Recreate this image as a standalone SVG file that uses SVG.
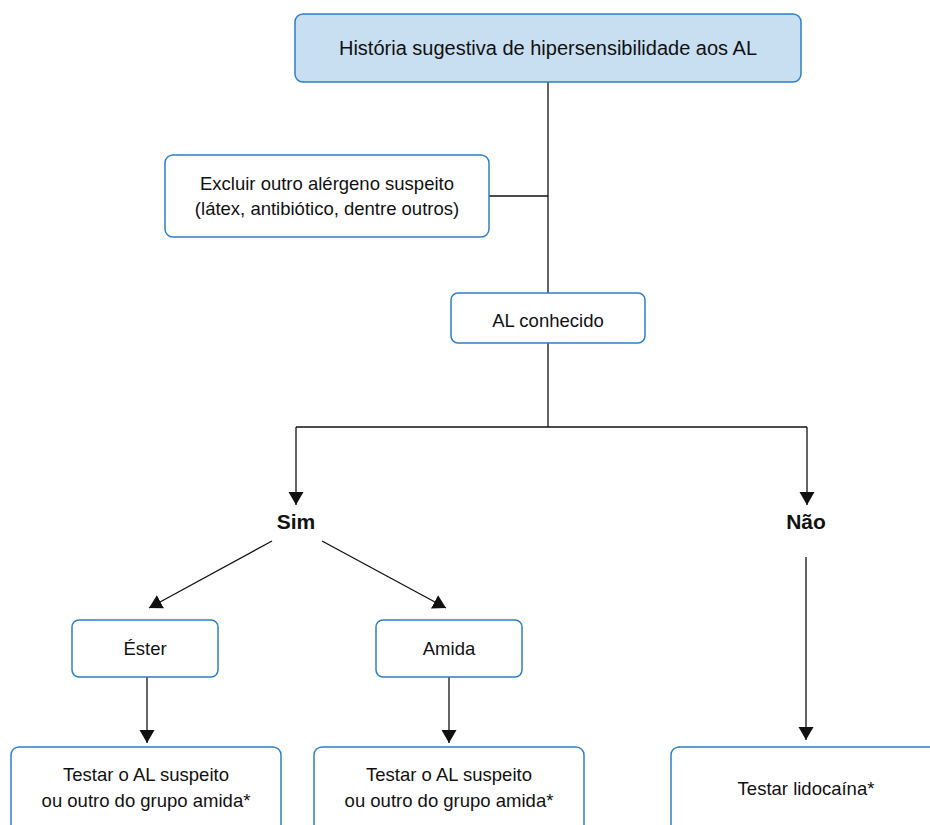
<svg xmlns="http://www.w3.org/2000/svg" width="930" height="825" viewBox="0 0 930 825">
<defs>
<style>
.box{fill:#ffffff;stroke:#2b80c8;stroke-width:1.5}
.top{fill:#c8dff2;stroke:#2b80c8;stroke-width:1.5}
.t{font-family:"Liberation Sans",Arial,sans-serif;font-size:18.5px;fill:#111;text-anchor:middle}
.h{font-size:20px}
.b{font-family:"Liberation Sans",Arial,sans-serif;font-size:21px;font-weight:bold;fill:#111;text-anchor:middle}
.ln{fill:none;stroke:#111;stroke-width:1.3}
</style>
<marker id="ah" markerWidth="16" markerHeight="16" viewBox="0 0 16 16" refX="13" refY="8" orient="auto" markerUnits="userSpaceOnUse">
<path d="M0,0.5 L13,8 L0,15.5 Z" fill="#111"/>
</marker>
</defs>
<rect width="930" height="825" fill="#ffffff"/>
<g id="connectors">
<line class="ln" x1="548" y1="82" x2="548" y2="293"/>
<line class="ln" x1="489" y1="196" x2="548" y2="196"/>
<line class="ln" x1="548" y1="343" x2="548" y2="427"/>
<line class="ln" x1="296" y1="427" x2="807" y2="427"/>
<line class="ln" x1="296" y1="427" x2="296" y2="505" marker-end="url(#ah)"/>
<line class="ln" x1="807" y1="427" x2="807" y2="505" marker-end="url(#ah)"/>
<line class="ln" x1="272" y1="541" x2="149" y2="608" marker-end="url(#ah)"/>
<line class="ln" x1="322" y1="541" x2="446" y2="608" marker-end="url(#ah)"/>
<line class="ln" x1="806" y1="557" x2="806" y2="740" marker-end="url(#ah)"/>
<line class="ln" x1="147" y1="677" x2="147" y2="743" marker-end="url(#ah)"/>
<line class="ln" x1="449" y1="677" x2="449" y2="743" marker-end="url(#ah)"/>
</g>
<g id="historia">
<rect class="top" x="295" y="14" width="506" height="68" rx="8"/>
<text class="t h" x="548" y="55">História sugestiva de hipersensibilidade aos AL</text>
</g>
<g id="excluir">
<rect class="box" x="165" y="155" width="324" height="82" rx="8"/>
<text class="t" x="327" y="190">Excluir outro alérgeno suspeito</text>
<text class="t" x="327" y="215">(látex, antibiótico, dentre outros)</text>
</g>
<g id="alconhecido">
<rect class="box" x="451" y="293" width="194" height="50" rx="7"/>
<text class="t" x="548" y="327">AL conhecido</text>
</g>
<g id="sim">
<text class="b" x="296" y="529">Sim</text>
</g>
<g id="nao">
<text class="b" x="806" y="529">Não</text>
</g>
<g id="ester">
<rect class="box" x="72" y="620" width="146" height="57" rx="7"/>
<text class="t" x="145" y="655">Éster</text>
</g>
<g id="amida">
<rect class="box" x="376" y="620" width="146" height="57" rx="7"/>
<text class="t" x="449" y="655">Amida</text>
</g>
<g id="testar1">
<rect class="box" x="11" y="747" width="270" height="90" rx="8"/>
<text class="t" x="146" y="781">Testar o AL suspeito</text>
<text class="t" x="146" y="807">ou outro do grupo amida*</text>
</g>
<g id="testar2">
<rect class="box" x="314" y="747" width="270" height="90" rx="8"/>
<text class="t" x="449" y="781">Testar o AL suspeito</text>
<text class="t" x="449" y="807">ou outro do grupo amida*</text>
</g>
<g id="testar3">
<rect class="box" x="671" y="747" width="270" height="90" rx="8"/>
<text class="t" x="806" y="795">Testar lidocaína*</text>
</g>
</svg>
